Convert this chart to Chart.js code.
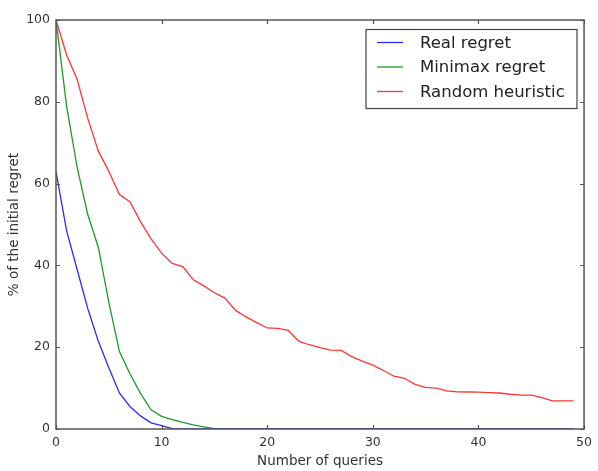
<!DOCTYPE html>
<html>
<head>
<meta charset="utf-8">
<script src="https://cdn.jsdelivr.net/npm/chart.js@4/dist/chart.umd.min.js"></script>
<style>
  html, body { margin: 0; padding: 0; background: #ffffff; }
  #wrap { width: 598px; height: 471px; }
</style>
</head>
<body>
<div id="wrap"><canvas id="c" width="598" height="471"></canvas></div>
<script>
const queries = [0,1,2,3,4,5,6,7,8,9,10,11,12,13,14,15,16,17,18,19,20,21,22,23,24,25,26,27,28,29,30,31,32,33,34,35,36,37,38,39,40,41,42,43,44,45,46,47,48,49];
const realRegret = [63,48.5,39,29.5,21.5,15,8.8,5.5,3.2,1.5,0.8,0.1,0,0,0,0,0,0,0,0,0,0,0,0,0,0,0,0,0,0,0,0,0,0,0,0,0,0,0,0,0,0,0,0,0,0,0,0,0,0];
const minimaxRegret = [100,79,64,52.5,44.5,31,19,13.5,8.7,4.7,3.1,2.3,1.6,1.0,0.5,0.1,0,0,0,0,0,0,0,0,0,0,0,0,0,0,0,0,0,0,0,0,0,0,0,0,0,0,0,0,0,0,0,0,0,0];
const randomHeuristic = [100,91.5,85.5,76,68,63,57.3,55.6,50.7,46.5,43,40.5,39.7,36.5,35,33.3,32,29,27.4,26,24.7,24.6,24.1,21.4,20.6,19.9,19.3,19.2,17.7,16.6,15.6,14.3,12.9,12.4,10.9,10.2,10,9.3,9.1,9.05,9.0,8.9,8.8,8.5,8.3,8.3,7.7,6.9,6.9,6.9];
const seriesNames = ["Real regret", "Minimax regret", "Random heuristic"];
const xTicks = [0,10,20,30,40,50];
const yTicks = [0,20,40,60,80,100];

const seriesColors = ["#2b2bff", "#1f9a2a", "#ff3535"];
const FONT = "'DejaVu Sans', 'Liberation Sans', sans-serif";

function pts(vals) { return queries.map((q, i) => ({x: q, y: vals[i]})); }

const framePlugin = {
  id: 'frame',
  afterDatasetsDraw(chart) {
    const {ctx, chartArea: a, scales} = chart;
    ctx.save();
    ctx.strokeStyle = '#555555';
    ctx.lineWidth = 1.2;
    const tl = 4;
    ctx.beginPath();
    scales.x.ticks.forEach(t => {
      const px = Math.round(scales.x.getPixelForValue(t.value)) + 0.5;
      ctx.moveTo(px, a.bottom); ctx.lineTo(px, a.bottom - tl);
      ctx.moveTo(px, a.top); ctx.lineTo(px, a.top + tl);
    });
    scales.y.ticks.forEach(t => {
      const py = Math.round(scales.y.getPixelForValue(t.value)) + 0.5;
      ctx.moveTo(a.left, py); ctx.lineTo(a.left + tl, py);
      ctx.moveTo(a.right, py); ctx.lineTo(a.right - tl, py);
    });
    ctx.stroke();
    ctx.lineWidth = 1.5;
    ctx.strokeStyle = '#555555';
    ctx.strokeRect(a.left, a.top, a.right - a.left, a.bottom - a.top);
    ctx.restore();
  },
  afterDraw(chart) {
    const {ctx} = chart;
    const bx = 366, by = 29.5, bw = 211, bh = 79;
    ctx.save();
    ctx.fillStyle = '#ffffff';
    ctx.fillRect(bx, by, bw, bh);
    ctx.strokeStyle = '#444444';
    ctx.lineWidth = 1.2;
    ctx.strokeRect(bx, by, bw, bh);
    ctx.font = "16.5px " + FONT;
    ctx.textBaseline = 'middle';
    ctx.fillStyle = '#222222';
    chart.data.datasets.forEach((ds, i) => {
      const y = 42.5 + i * 24.5;
      ctx.strokeStyle = ds.borderColor;
      ctx.lineWidth = 1.3;
      ctx.beginPath();
      ctx.moveTo(377, y); ctx.lineTo(403, y);
      ctx.stroke();
      ctx.fillText(ds.label, 420, y + 1);
    });
    ctx.restore();
  }
};

new Chart(document.getElementById('c'), {
  type: 'line',
  data: {
    datasets: [
      {label: seriesNames[0], data: pts(realRegret), borderColor: seriesColors[0]},
      {label: seriesNames[1], data: pts(minimaxRegret), borderColor: seriesColors[1]},
      {label: seriesNames[2], data: pts(randomHeuristic), borderColor: seriesColors[2]}
    ].map(d => Object.assign(d, {borderWidth: 1.3, pointRadius: 0, tension: 0, fill: false}))
  },
  options: {
    responsive: false,
    animation: false,
    layout: {padding: {top: 20, right: 12, left: 0, bottom: 0}},
    plugins: {legend: {display: false}, tooltip: {enabled: false}},
    scales: {
      x: {
        type: 'linear', min: 0, max: 50,
        afterBuildTicks: s => { s.ticks = xTicks.map(v => ({value: v})); },
        afterFit: s => { s.height = 42; },
        grid: {display: false, drawTicks: false},
        border: {display: false},
        ticks: {padding: 6, color: '#333333', font: {family: FONT, size: 12.5}, maxRotation: 0},
        title: {display: true, text: 'Number of queries', color: '#333333', font: {family: FONT, size: 13.5}, padding: {top: 0, bottom: 1.5}}
      },
      y: {
        type: 'linear', min: 0, max: 100,
        afterBuildTicks: s => { s.ticks = yTicks.map(v => ({value: v})); },
        afterFit: s => { s.width = 56; },
        grid: {display: false, drawTicks: false},
        border: {display: false},
        ticks: {padding: 6, color: '#333333', font: {family: FONT, size: 12.5}},
        title: {display: true, text: '% of the initial regret', color: '#333333', font: {family: FONT, size: 13.5}, padding: {top: 6, bottom: 0}}
      }
    }
  },
  plugins: [framePlugin]
});
</script>
</body>
</html>
